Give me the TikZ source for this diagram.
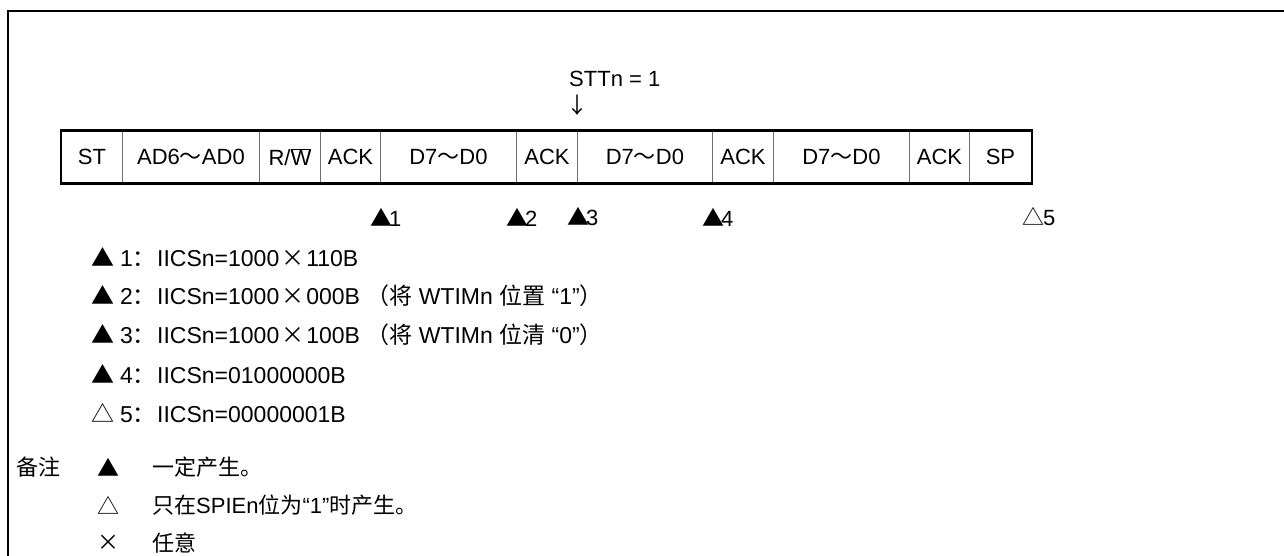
\documentclass[tikz,border=0pt]{standalone}
\usepackage{fontspec}
\setmainfont{Liberation Sans}
\newfontfamily\cjk{Noto Sans CJK SC}
\definecolor{divgray}{RGB}{110,110,110}
\tikzset{
  cell/.style={draw=divgray, line width=0.9pt, minimum height=52pt, inner sep=0pt, anchor=west},
  txt/.style={inner sep=0pt, anchor=west},
  lg/.style={inner sep=0pt, anchor=west, font=\fontsize{23}{27}\selectfont},
  mk/.style={inner sep=0pt, anchor=west},
}
\newcommand{\lghead}[2]{\makebox[29pt][l]{{\cjk #1}}\makebox[37pt][l]{#2{\cjk ：}}}
\newcommand{\tms}{\hspace{2pt}{\cjk ×}\hspace{2pt}}
\begin{document}
\begin{tikzpicture}[x=1pt,y=-1pt,font=\fontsize{22}{26}\selectfont]
\useasboundingbox (0,0) rectangle (1284,556);
% frame
\coordinate (ftl) at (8,11);
\coordinate (ftr) at (1284,11);
\coordinate (fbl) at (8,556);
\draw[line width=2.2pt] (ftr) -- (ftl) -- (fbl);
% cells
\node[cell, minimum width=61pt]  (c1)  at (61,157)  {ST};
\node[cell, minimum width=137pt] (c2)  at (122,157) {AD6{\cjk ～}AD0};
\node[cell, minimum width=61pt]  (c3)  at (259,157) {R/$\overline{\mbox{W}}$};
\node[cell, minimum width=60pt]  (c4)  at (320,157) {ACK};
\node[cell, minimum width=136pt] (c5)  at (380,157) {D7{\cjk ～}D0};
\node[cell, minimum width=61pt]  (c6)  at (516,157) {ACK};
\node[cell, minimum width=135pt] (c7)  at (577,157) {D7{\cjk ～}D0};
\node[cell, minimum width=61pt]  (c8)  at (712,157) {ACK};
\node[cell, minimum width=136pt] (c9)  at (773,157) {D7{\cjk ～}D0};
\node[cell, minimum width=60pt]  (c10) at (909,157) {ACK};
\node[cell, minimum width=62pt]  (c11) at (969,157) {SP};
\draw[line width=2.2pt] (c1.north west) rectangle (c11.south east);
% STTn
\node[txt] (stt) at (569,79) {STTn = 1};
\node[inner sep=0pt] (arr) at (577,105) {{\cjk ↓}};
% markers
\node[mk] (m1) at (370,217) {{\cjk ▲}\kern-3pt 1};
\node[mk] (m2) at (506,217) {{\cjk ▲}\kern-3pt 2};
\node[mk] (m3) at (567,217) {{\cjk ▲}\kern-3pt 3};
\node[mk] (m4) at (702,217) {{\cjk ▲}\kern-3pt 4};
\node[mk] (m5) at (1022,217) {{\cjk △}\kern-1pt 5};
% legend
\node[lg] (l1) at (91,257) {\lghead{▲}{1}IICSn=1000\tms 110B};
\node[lg] (l2) at (91,296) {\lghead{▲}{2}IICSn=1000\tms 000B {\cjk （将} WTIMn {\cjk 位置} “1”{\cjk ）}};
\node[lg] (l3) at (91,335) {\lghead{▲}{3}IICSn=1000\tms 100B {\cjk （将} WTIMn {\cjk 位清} “0”{\cjk ）}};
\node[lg] (l4) at (91,374) {\lghead{▲}{4}IICSn=01000000B};
\node[lg] (l5) at (91,413) {\lghead{△}{5}IICSn=00000001B};
% notes
\node[txt] (bz) at (16,467) {{\cjk 备注}};
\node[txt] (s1) at (97,467) {{\cjk ▲}};
\node[txt] (t1) at (152,467) {{\cjk 一定产生。}};
\node[txt] (s2) at (97,505) {{\cjk △}};
\node[txt] (t2) at (152,505) {{\cjk 只在}SPIEn{\cjk 位为}“1”{\cjk 时产生。}};
\node[txt] (s3) at (97,543) {{\cjk ×}};
\node[txt] (t3) at (152,543) {{\cjk 任意}};
\end{tikzpicture}
\end{document}
